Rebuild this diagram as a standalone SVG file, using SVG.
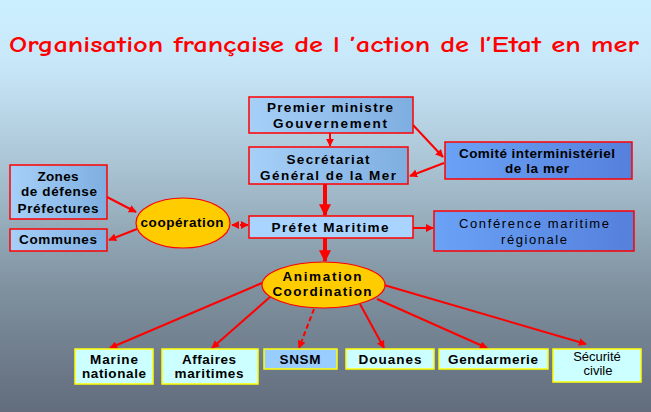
<svg xmlns="http://www.w3.org/2000/svg" width="651" height="412" viewBox="0 0 651 412">
<defs>
<linearGradient id="bg" x1="0" y1="0" x2="0" y2="1">
<stop offset="0" stop-color="#ccefff"/>
<stop offset="0.15" stop-color="#c8e8fa"/>
<stop offset="0.4" stop-color="#aac4d4"/>
<stop offset="0.7" stop-color="#7f919f"/>
<stop offset="1" stop-color="#626c7c"/>
</linearGradient>
<linearGradient id="gBlue" x1="0" y1="0" x2="1" y2="0">
<stop offset="0" stop-color="#a6d0f8"/>
<stop offset="1" stop-color="#7eaee0"/>
</linearGradient>
<linearGradient id="gDark" x1="0" y1="0" x2="1" y2="0">
<stop offset="0" stop-color="#6aa2f6"/>
<stop offset="1" stop-color="#5580dc"/>
</linearGradient>
<marker id="ar" viewBox="0 0 10 10" refX="9" refY="5" markerWidth="4" markerHeight="4" orient="auto-start-reverse" markerUnits="strokeWidth">
<path d="M0,0 L10,5 L0,10 z" fill="#ff0000"/>
</marker>
<marker id="arB" viewBox="0 0 10 10" refX="9" refY="5" markerWidth="3" markerHeight="3" orient="auto" markerUnits="strokeWidth">
<path d="M0,0 L10,5 L0,10 z" fill="#ff0000"/>
</marker>
</defs>
<style>
.t{font-family:"Liberation Sans",Arial,sans-serif;font-weight:bold;font-size:13.5px;fill:#000;text-anchor:middle}
.n{font-family:"Liberation Sans",Arial,sans-serif;font-size:13px;fill:#000;text-anchor:middle}
.bx{fill:url(#gBlue);stroke:#ff0000;stroke-width:1.5}
.dk{fill:url(#gDark);stroke:#ff0000;stroke-width:1.5}
.lb{fill:#a8d4ff;stroke:#ff0000;stroke-width:1.5}
.yb{fill:#ccffff;stroke:#ffff00;stroke-width:1.5}
.ys{fill:#99ccff;stroke:#ffff00;stroke-width:1.5}
.el{fill:#ffcc00;stroke:#ff0000;stroke-width:1.2}
.c{stroke:#ff0000;stroke-width:2;fill:none}
.cb{stroke:#ff0000;stroke-width:4;fill:none}
</style>
<rect x="0" y="0" width="651" height="412" fill="url(#bg)"/>
<text x="324" y="52" font-family="'Comic Neue','DejaVu Sans',sans-serif" font-weight="bold" font-size="23" fill="#ff0000" text-anchor="middle" textLength="630" lengthAdjust="spacingAndGlyphs">Organisation française de l ’action de l’Etat en mer</text>

<g id="connectors">
<line class="c" x1="330" y1="133" x2="330" y2="146" marker-end="url(#ar)"/>
<line class="c" x1="413" y1="125" x2="443" y2="157" marker-end="url(#ar)"/>
<line class="c" x1="444" y1="163" x2="410" y2="176" marker-end="url(#ar)"/>
<line class="cb" x1="325" y1="184" x2="325" y2="215" marker-end="url(#arB)"/>
<line class="c" x1="413" y1="228" x2="433" y2="228" marker-end="url(#ar)"/>
<line class="c" x1="248" y1="225" x2="232" y2="225" stroke-dasharray="3,2" marker-start="url(#ar)" marker-end="url(#ar)"/>
<line class="c" x1="107" y1="197" x2="136" y2="212" marker-end="url(#ar)"/>
<line class="c" x1="137" y1="229" x2="109" y2="240" marker-end="url(#ar)"/>
<line class="cb" x1="325" y1="238" x2="325" y2="261" marker-end="url(#arB)"/>
<line class="c" x1="262" y1="283" x2="110" y2="348" marker-end="url(#ar)"/>
<line class="c" x1="270" y1="297" x2="212" y2="348" marker-end="url(#ar)"/>
<line class="c" x1="314" y1="309" x2="299" y2="348" stroke-dasharray="5,3" marker-end="url(#ar)"/>
<line class="c" x1="360" y1="304" x2="384" y2="348" marker-end="url(#ar)"/>
<line class="c" x1="377" y1="299" x2="487" y2="348" marker-end="url(#ar)"/>
<line class="c" x1="384" y1="285" x2="586" y2="344" marker-end="url(#ar)"/>
</g>

<g id="premier"><rect class="bx" x="249" y="97" width="164" height="36"/><text class="t" x="330" y="112" textLength="126">Premier ministre</text><text class="t" x="330" y="128" textLength="114">Gouvernement</text></g>
<g id="sgmer"><rect class="bx" x="249" y="147" width="159" height="37"/><text class="t" x="328" y="164" textLength="83">Secrétariat</text><text class="t" x="328" y="180" textLength="136">Général de la Mer</text></g>
<g id="comite"><rect class="dk" x="445" y="142" width="187" height="37"/><text class="t" x="537" y="158" textLength="156">Comité interministériel</text><text class="t" x="537" y="173" textLength="64">de la mer</text></g>
<g id="prefet"><rect class="lb" x="249" y="216" width="164" height="22"/><text class="t" x="330" y="232" font-size="14" textLength="117">Préfet Maritime</text></g>
<g id="conference"><rect class="dk" x="434" y="211" width="200" height="40"/><text class="n" x="534" y="228" font-size="14" textLength="150">Conférence maritime</text><text class="n" x="534" y="244" font-size="14" textLength="66">régionale</text></g>
<g id="zones"><rect class="bx" x="10" y="165" width="97" height="54"/><text class="t" x="58" y="181" textLength="41">Zones</text><text class="t" x="59" y="196" textLength="76">de défense</text><text class="t" x="58" y="213" textLength="81">Préfectures</text></g>
<g id="communes"><rect class="bx" x="10" y="229" width="97" height="22"/><text class="t" x="58" y="244" textLength="78">Communes</text></g>
<g id="cooperation"><ellipse class="el" cx="183" cy="223" rx="47" ry="25"/><text class="t" x="182" y="227" textLength="83">coopération</text></g>
<g id="animation"><ellipse class="el" cx="323.5" cy="285" rx="61.5" ry="23"/><text class="t" x="322" y="281" font-size="14" textLength="79">Animation</text><text class="t" x="322" y="296" font-size="14" textLength="99">Coordination</text></g>
<g id="marine"><rect class="yb" x="75" y="349" width="78" height="35"/><text class="t" x="114" y="364" textLength="48">Marine</text><text class="t" x="114" y="378" textLength="64">nationale</text></g>
<g id="affaires"><rect class="yb" x="162" y="349" width="96" height="35"/><text class="t" x="209" y="364" textLength="54">Affaires</text><text class="t" x="209" y="378" textLength="69">maritimes</text></g>
<g id="snsm"><rect class="ys" x="264" y="349" width="73" height="20"/><text class="t" x="300" y="364" textLength="41">SNSM</text></g>
<g id="douanes"><rect class="yb" x="346" y="349" width="88" height="20"/><text class="t" x="390" y="364" textLength="63">Douanes</text></g>
<g id="gendarmerie"><rect class="yb" x="439" y="349" width="109" height="20"/><text class="t" x="493" y="364" textLength="90">Gendarmerie</text></g>
<g id="securite"><rect class="yb" x="553" y="349" width="88" height="33"/><text class="n" x="597" y="361" font-size="11">Sécurité</text><text class="n" x="598" y="375" font-size="11">civile</text></g>
</svg>
